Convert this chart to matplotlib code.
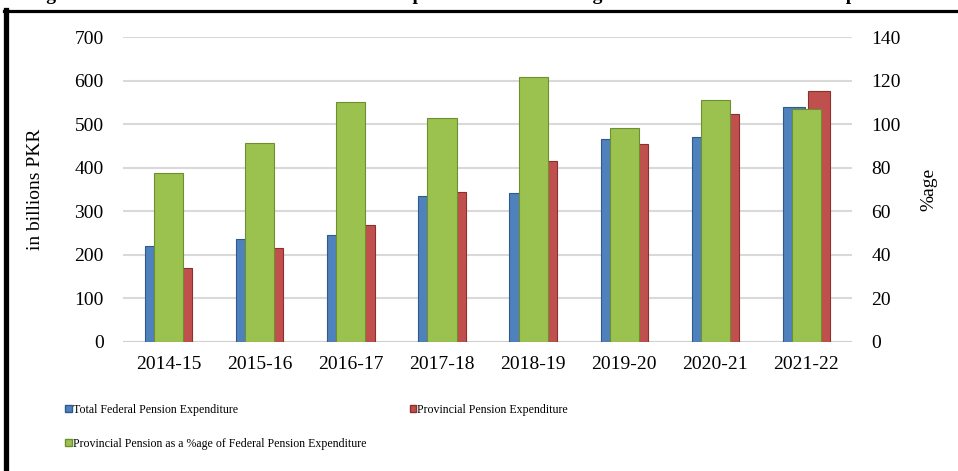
import numpy as np
import matplotlib
matplotlib.use("Agg")
import matplotlib.pyplot as plt
from matplotlib.patches import Patch
from matplotlib.lines import Line2D

plt.rcParams['font.family'] = ['Liberation Serif', 'DejaVu Serif']

# === data ===
years = ["2014-15", "2015-16", "2016-17", "2017-18", "2018-19", "2019-20", "2020-21", "2021-22"]
federal = [220, 236, 245, 336, 343, 465, 471, 540]          # billions PKR
provincial = [170, 215, 268, 345, 416, 454, 523, 577]       # billions PKR
pct_of_federal = [77.7, 91.5, 110, 103, 121.8, 98.2, 111.2, 107.1]  # %age

blue = "#4F81BD"
red = "#C0504D"
green = "#9BC24F"

fig = plt.figure(figsize=(9.58, 4.71), dpi=100)
ax = fig.add_axes([0.1284, 0.2739, 0.7610, 0.6475])
ax2 = ax.twinx()

x = np.arange(len(years))
w = 0.24
ax.bar(x - 0.14, federal, width=w, color=blue, edgecolor="#2E5A8C", linewidth=0.8, zorder=2)
ax.bar(x + 0.14, provincial, width=w, color=red, edgecolor="#8C2F2D", linewidth=0.8, zorder=2)
ax2.bar(x, pct_of_federal, width=0.32, color=green, edgecolor="#6E8F2F", linewidth=0.8, zorder=2)

ax.set_xlim(-0.5, len(years) - 0.5)
ax.set_ylim(0, 700)
ax2.set_ylim(0, 140)
ax.set_yticks(range(0, 701, 100))
ax2.set_yticks(range(0, 141, 20))
ax.set_xticks(x)
ax.set_xticklabels(years)

ax.grid(axis="y", color="#D9D9D9", linewidth=1.5, zorder=0)
ax.set_axisbelow(True)
for a in (ax, ax2):
    for s in a.spines.values():
        s.set_visible(False)
    a.tick_params(length=0, labelsize=14)
ax.tick_params(axis="y", pad=14)
ax2.tick_params(axis="y", pad=14)
ax.tick_params(axis="x", pad=10)
ax.axhline(0, color="#D0D0D0", linewidth=1.5, zorder=1)

ax.set_ylabel("in billions PKR", fontsize=14, labelpad=22)
ax2.set_ylabel("%age", fontsize=14, rotation=90, labelpad=14)

# legend
handles = [
    Patch(facecolor=blue, edgecolor="#2E5A8C", label="Total Federal Pension Expenditure"),
    Patch(facecolor=green, edgecolor="#6E8F2F", label="Provincial Pension as a %age of Federal Pension Expenditure"),
    Patch(facecolor=red, edgecolor="#8C2F2D", label="Provincial Pension Expenditure"),
]
fig.legend(handles=handles, loc="upper left", bbox_to_anchor=(0.062, 0.155), ncol=2,
           frameon=False, fontsize=8.6, handlelength=0.55, handleheight=0.55,
           handletextpad=0.1, columnspacing=3.6, labelspacing=1.85, borderpad=0)

# cut-off title above the frame
fig.text(0.03, 1.0, "Figure 2.5: Federal and Provincial Pension Expenditure & Percentage of Total Federal Pension Expenditure",
         fontsize=14, fontweight="bold", va="baseline", ha="left")

# frame lines
fig.add_artist(Line2D([0.0065, 0.0065], [0, 0.978], transform=fig.transFigure, color="black", linewidth=3.8))
fig.add_artist(Line2D([0.004, 1.0], [0.977, 0.977], transform=fig.transFigure, color="black", linewidth=2.3))

plt.savefig("out.png", dpi=100)
